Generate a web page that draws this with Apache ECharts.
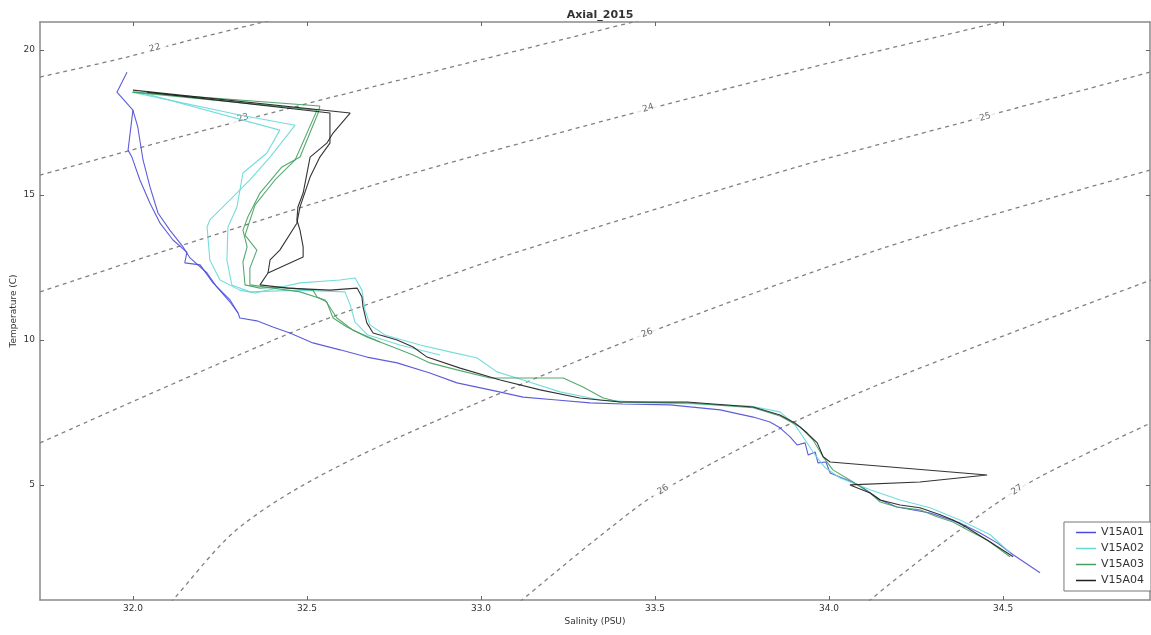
<!DOCTYPE html>
<html>
<head>
<meta charset="utf-8">
<script src="https://cdn.jsdelivr.net/npm/echarts@6/dist/echarts.min.js"></script>
<style>html,body{margin:0;padding:0;background:#fff}#c{width:1151px;height:635px}</style>
</head>
<body>
<div id="c"></div>
<script>
// ---------------- DATA ----------------
const salTicks = [32.0, 32.5, 33.0, 33.5, 34.0, 34.5];
const tempTicks = [5, 10, 15, 20];
const profileNames = ['V15A01', 'V15A02', 'V15A03', 'V15A04'];

// V15A01
const a01_S = [31.983,31.954,32.000,31.986,31.997,32.020,32.049,32.078,32.115,32.155,32.149,32.193,32.230,32.279,32.302,32.307,32.356,32.402,32.451,32.517,32.595,32.672,32.759,32.853,32.931,33.026,33.121,33.218,33.313,33.408,33.543,33.687,33.782,33.830,33.859,33.888,33.908,33.931,33.940,33.960,33.968,33.991,34.003,34.052,34.089,34.147,34.195,34.290,34.376,34.434,34.483,34.529,34.606];
const a01_T = [19.24,18.55,17.93,16.55,16.31,15.52,14.72,14.03,13.45,13.03,12.66,12.59,11.97,11.38,10.93,10.76,10.66,10.45,10.24,9.90,9.66,9.41,9.21,8.86,8.52,8.28,8.03,7.93,7.83,7.79,7.76,7.59,7.34,7.17,6.97,6.66,6.38,6.45,6.03,6.14,5.76,5.79,5.41,5.17,4.97,4.48,4.24,4.03,3.69,3.34,3.00,2.59,1.97];
const a01b_S = [32.000,32.014,32.029,32.049,32.072,32.106,32.144,32.164,32.213,32.241,32.279,32.302];
const a01b_T = [17.93,17.34,16.21,15.28,14.38,13.79,13.21,12.83,12.31,11.83,11.31,10.93];

// V15A02
const a02_S = [31.997,32.307,32.466,32.394,32.336,32.287,32.221,32.213,32.221,32.250,32.307,32.351,32.480,32.595,32.638,32.658,32.667,32.681,32.724,32.825,32.911,32.989,33.046,33.121,33.227,33.342,33.486,33.629,33.773,33.859,33.902,33.931,33.960,33.989,34.032,34.118,34.204,34.290,34.376,34.463,34.520];
const a02_T = [18.55,17.76,17.41,16.31,15.52,14.93,14.14,13.90,12.76,12.07,11.72,11.62,11.97,12.07,12.14,11.72,11.03,10.52,10.17,9.83,9.59,9.38,8.90,8.62,8.21,7.93,7.83,7.79,7.72,7.52,7.07,6.55,6.03,5.59,5.24,4.83,4.48,4.21,3.79,3.28,2.66];
const a02b_S = [32.029,32.422,32.385,32.316,32.299,32.273,32.270,32.284,32.336,32.480,32.609,32.624,32.638,32.675,32.767,32.882];
const a02b_T = [18.52,17.24,16.45,15.76,14.59,13.90,12.76,11.90,11.66,11.72,11.66,11.21,10.62,10.17,9.83,9.48];

// V15A03
const a03_S = [32.000,32.537,32.532,32.480,32.428,32.365,32.330,32.316,32.328,32.316,32.322,32.365,32.422,32.517,32.529,32.557,32.566,32.575,32.615,32.672,32.747,32.805,32.853,32.931,33.026,33.121,33.236,33.293,33.351,33.399,33.592,33.782,33.859,33.917,33.954,33.983,34.011,34.069,34.118,34.147,34.195,34.261,34.310,34.356,34.397,34.454,34.520];
const a03_T = [18.55,18.07,17.83,16.31,15.97,15.07,14.24,13.79,13.21,12.69,11.90,11.79,11.83,11.72,11.48,11.31,11.03,10.76,10.45,10.10,9.76,9.48,9.21,8.97,8.69,8.69,8.69,8.38,8.00,7.86,7.83,7.66,7.38,7.00,6.55,5.97,5.52,5.10,4.72,4.41,4.24,4.14,3.90,3.72,3.45,3.10,2.52];
const a03b_S = [32.000,32.529,32.466,32.408,32.351,32.322,32.356,32.336,32.336,32.480,32.552,32.586,32.632,32.710];
const a03b_T = [18.55,17.93,16.21,15.52,14.66,13.62,13.10,12.48,11.90,11.66,11.38,10.76,10.34,9.93];

// V15A04
const a04_S = [32.000,32.624,32.575,32.557,32.509,32.489,32.474,32.471,32.480,32.489,32.489,32.388,32.365,32.443,32.566,32.644,32.658,32.661,32.672,32.690,32.759,32.805,32.845,32.940,33.055,33.170,33.284,33.399,33.592,33.782,33.859,33.902,33.937,33.966,33.983,34.003,34.454,34.261,34.060,34.118,34.147,34.204,34.261,34.319,34.356,34.397,34.463,34.529];
const a04_T = [18.62,17.83,17.14,16.79,16.31,15.07,14.59,14.14,13.79,13.21,12.86,12.31,11.90,11.79,11.72,11.79,11.48,11.14,10.59,10.24,10.00,9.76,9.41,9.03,8.62,8.28,8.00,7.86,7.86,7.69,7.41,7.14,6.79,6.45,5.97,5.79,5.34,5.10,5.00,4.72,4.48,4.31,4.21,3.97,3.79,3.52,3.03,2.52];
const a04b_S = [32.040,32.566,32.566,32.537,32.509,32.480,32.471,32.422,32.394,32.388];
const a04b_T = [18.55,17.83,16.79,16.31,15.62,14.59,14.03,13.10,12.76,12.31];

// Isopycnals (sigma-t)
const iso22_S = [31.733,31.983,32.144,32.374,32.480];
const iso22_T = [19.07,19.76,20.28,20.97,21.28];
const iso23_S = [31.733,32.230,32.767,33.437,33.630];
const iso23_T = [15.69,17.31,18.97,20.97,21.55];
const iso24_S = [31.733,32.098,32.767,33.394,33.917,34.491,34.780];
const iso24_T = [11.66,13.10,15.62,17.69,19.31,20.97,21.76];
const iso25_S = [31.733,32.460,32.767,33.103,33.917,34.376,34.922];
const iso25_T = [6.45,10.28,11.62,13.03,16.00,17.48,19.24];
const iso26_S = [32.078,32.115,32.287,32.480,32.767,33.428,34.155,34.922];
const iso26_T = [0.52,1.03,3.34,4.93,6.66,10.00,13.17,15.86];
const iso265_S = [33.083,33.118,33.457,33.592,33.851,34.175,34.925];
const iso265_T = [0.55,1.03,4.31,5.28,6.90,8.62,12.07];
const iso27_S = [34.090,34.118,34.454,34.606,34.925];
const iso27_T = [0.50,1.03,4.14,5.28,7.14];

const isoLabelText = ['22','23','24','25','26','26','27'];
const isoLabelS = [32.063,32.316,33.480,34.448,33.477,33.523,34.540];
const isoLabelT = [20.07,17.66,18.00,17.69,10.24,4.83,4.83];

// ---------------- STYLE ----------------
const isoLabelRot = [14,15,16,16,22,32,34];
const colors = ['#4b4bd8', '#66d8d8', '#43a061', '#1e1e1e'];
const FONT = 'DejaVu Sans';

const zip = (a, b) => a.map((v, i) => [v, b[i]]);

const isoSets = [
  [iso22_S, iso22_T],[iso23_S, iso23_T],[iso24_S, iso24_T],[iso25_S, iso25_T],
  [iso26_S, iso26_T],[iso265_S, iso265_T],[iso27_S, iso27_T]
];

const series = [];
isoSets.forEach(([s, t]) => {
  series.push({
    type: 'line', data: zip(s, t), symbol: 'none', smooth: 0.3, silent: true,
    clip: true, legendHoverLink: false,
    lineStyle: { color: '#808080', width: 1.3, type: [4, 4] }, z: 1
  });
});
series.push({
  type: 'scatter', silent: true, symbolSize: 0, z: 3,
  data: isoLabelText.map((txt, i) => ({
    value: [isoLabelS[i], isoLabelT[i]],
    label: { show: true, formatter: txt, rotate: isoLabelRot[i], position: 'inside',
             fontSize: 9, fontFamily: FONT, color: '#444', backgroundColor: '#fff', padding: [2, 6] }
  }))
});

const profiles = [
  [a01_S, a01_T, a01b_S, a01b_T],
  [a02_S, a02_T, a02b_S, a02b_T],
  [a03_S, a03_T, a03b_S, a03b_T],
  [a04_S, a04_T, a04b_S, a04b_T]
];
profiles.forEach(([s, t, bs, bt], i) => {
  const base = { type: 'line', name: profileNames[i], symbol: 'none', clip: true,
    lineStyle: { color: colors[i], width: 1.1, opacity: 0.9 }, itemStyle: { color: colors[i] }, z: 4 + i };
  series.push(Object.assign({}, base, { data: zip(s, t) }));
  series.push(Object.assign({}, base, { data: zip(bs, bt) }));
});

const axisCommon = {
  type: 'value', splitLine: { show: false },
  axisLine: { show: true, onZero: false, lineStyle: { color: '#8a8a8a', width: 1.5 } },
  axisTick: { show: true, inside: true, length: 4, lineStyle: { color: '#666' } }
};

const option = {
  animation: false,
  backgroundColor: '#fff',
  title: { text: 'Axial_2015', left: 595, top: 5, textAlign: 'center',
           textStyle: { fontSize: 11, fontWeight: 'bold', fontFamily: FONT, color: '#333' } },
  grid: { left: 40, right: 1, top: 22, bottom: 35, containLabel: false, outerBoundsMode: 'none' },
  legend: {
    data: profileNames, orient: 'vertical', right: 0, top: 522,
    icon: 'rect', itemWidth: 20, itemHeight: 1.5, itemGap: 5,
    padding: [5, 7, 5, 12], borderColor: '#777', borderWidth: 1, backgroundColor: '#fff',
    textStyle: { fontSize: 11, fontFamily: FONT, color: '#333' }
  },
  xAxis: [
    Object.assign({}, axisCommon, {
      position: 'bottom', min: 31.733, max: 34.922,
      name: 'Salinity (PSU)', nameLocation: 'middle', nameGap: 17, nameMoveOverlap: false,
      nameTextStyle: { fontSize: 9, fontFamily: FONT, color: '#333' },
      axisTick: Object.assign({}, axisCommon.axisTick, { customValues: salTicks }),
      axisLabel: { customValues: salTicks, formatter: v => v.toFixed(1), fontSize: 9, fontFamily: FONT, color: '#333', margin: 4 }
    }),
    Object.assign({}, axisCommon, {
      position: 'top', min: 31.733, max: 34.922,
      axisTick: Object.assign({}, axisCommon.axisTick, { customValues: salTicks }),
      axisLabel: { show: false }
    })
  ],
  yAxis: [
    Object.assign({}, axisCommon, {
      position: 'left', min: 1.03, max: 20.97,
      name: 'Temperature (C)', nameLocation: 'middle', nameGap: 22, nameRotate: 90, nameMoveOverlap: false,
      nameTextStyle: { fontSize: 9, fontFamily: FONT, color: '#333' },
      axisTick: Object.assign({}, axisCommon.axisTick, { customValues: tempTicks }),
      axisLabel: { customValues: tempTicks, formatter: v => String(v), fontSize: 9, fontFamily: FONT, color: '#333', margin: 5 }
    }),
    Object.assign({}, axisCommon, {
      position: 'right', min: 1.03, max: 20.97,
      axisTick: Object.assign({}, axisCommon.axisTick, { customValues: tempTicks }),
      axisLabel: { show: false }
    })
  ],
  series: series
};

const chart = echarts.init(document.getElementById('c'));
chart.setOption(option);
</script>
</body>
</html>
